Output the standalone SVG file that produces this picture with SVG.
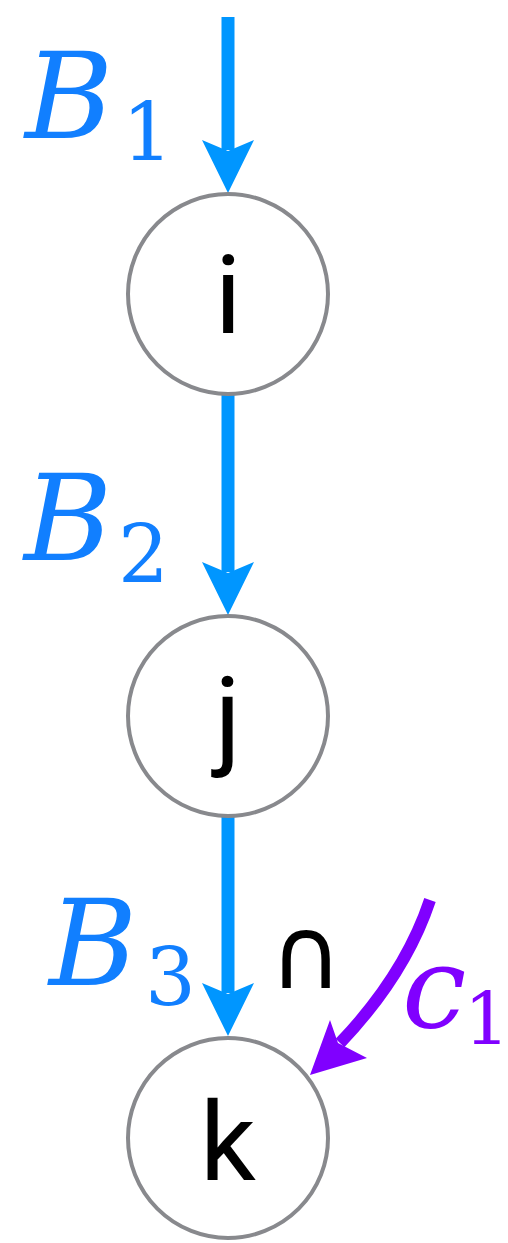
<svg xmlns="http://www.w3.org/2000/svg" width="508" height="1243" viewBox="0 0 508 1243">
<style>
.node circle{fill:#fff;stroke:#88898d;stroke-width:4}
.node text{font-family:Roboto,"Liberation Sans",Arial,sans-serif;font-size:110px;text-anchor:middle;fill:#000}
.blue{stroke:#0096ff;stroke-width:13;fill:none}
.lab{font-family:"DejaVu Serif",serif}
</style>
<g id="connectors">
<path class="blue" d="M228,17 V150"/>
<path d="M202,140 L228,193 L254,140 L228,151 Z" fill="#0096ff"/>
<path class="blue" d="M228,395 V572"/>
<path d="M202,562 L228,615 L254,562 L228,573 Z" fill="#0096ff"/>
<path class="blue" d="M228,817 V993"/>
<path d="M202,983 L228,1036 L254,983 L228,994 Z" fill="#0096ff"/>
<path d="M430,900 Q405,975 340,1043" stroke="#8000ff" stroke-width="12" fill="none"/>
<path d="M310,1075 L330,1020 L338,1043 L367,1058 Z" fill="#8000ff"/>
</g>
<g id="node-i" class="node">
<circle cx="228" cy="294" r="100"/>
<text x="228" y="333">i</text>
</g>
<g id="node-j" class="node">
<circle cx="228" cy="716" r="100"/>
<text x="228" y="755">j</text>
</g>
<g id="node-k" class="node">
<circle cx="228" cy="1138" r="100"/>
<text x="228" y="1180">k</text>
</g>
<g id="labels" class="lab">
<text x="25" y="138" fill="#117fff" font-size="120" font-style="italic">B</text>
<text x="122" y="160" fill="#117fff" font-size="80">1</text>
<text x="24" y="560" fill="#117fff" font-size="120" font-style="italic">B</text>
<text x="118" y="582" fill="#117fff" font-size="80">2</text>
<text x="49" y="985" fill="#117fff" font-size="120" font-style="italic">B</text>
<text x="145" y="1005" fill="#117fff" font-size="80">3</text>
<text x="306" y="988" fill="#000" font-size="100" text-anchor="middle" font-family="DejaVu Sans, sans-serif">∩</text>
<text x="402" y="1027" fill="#8000ff" font-size="115" font-style="italic">c</text>
<text x="487" y="1045" fill="#8000ff" font-size="72" text-anchor="middle">1</text>
</g>
</svg>
